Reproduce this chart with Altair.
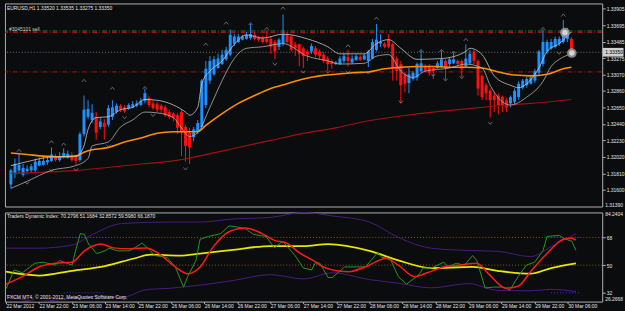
import altair as alt
import pandas as pd

# ---------------- main chart data (EURUSD H1) ----------------
O = [1.3167,1.3180,1.3185,1.3179,1.3184,1.3185,1.3185,1.3191,1.3192,1.3195,
     1.3197,1.3202,1.3198,1.3202,1.3201,1.3203,1.3202,1.3198,1.3231,1.3253,
     1.3249,1.3253,1.3240,1.3245,1.3243,1.3253,1.3259,1.3267,1.3265,1.3264,
     1.3265,1.3267,1.3268,1.3273,1.3277,1.3270,1.3269,1.3267,1.3265,1.3259,
     1.3257,1.3255,1.3259,1.3240,1.3233,1.3227,1.3234,1.3240,1.3268,1.3299,
     1.3307,1.3315,1.3320,1.3326,1.3332,1.3346,1.3348,1.3351,1.3352,1.3353,
     1.3357,1.3353,1.3353,1.3352,1.3352,1.3348,1.3342,1.3346,1.3357,1.3355,
     1.3345,1.3345,1.3340,1.3336,1.3336,1.3340,1.3336,1.3332,1.3327,1.3324,
     1.3320,1.3320,1.3324,1.3329,1.3322,1.3325,1.3329,1.3326,1.3324,1.3327,
     1.3338,1.3346,1.3346,1.3351,1.3345,1.3327,1.3320,1.3307,1.3296,1.3301,
     1.3303,1.3311,1.3317,1.3317,1.3315,1.3315,1.3317,1.3324,1.3320,1.3321,
     1.3324,1.3324,1.3317,1.3321,1.3336,1.3324,1.3305,1.3293,1.3286,1.3280,
     1.3280,1.3278,1.3274,1.3270,1.3272,1.3278,1.3290,1.3293,1.3295,1.3299,
     1.3309,1.3320,1.3336,1.3340,1.3342,1.3346,1.3348,1.3352,1.3352]
H = [1.3187,1.3200,1.3206,1.3193,1.3191,1.3193,1.3200,1.3201,1.3202,1.3203,
     1.3214,1.3206,1.3208,1.3213,1.3210,1.3208,1.3205,1.3234,1.3280,1.3274,
     1.3269,1.3259,1.3252,1.3250,1.3268,1.3274,1.3270,1.3269,1.3268,1.3270,
     1.3273,1.3274,1.3277,1.3289,1.3279,1.3274,1.3272,1.3269,1.3268,1.3262,
     1.3259,1.3258,1.3262,1.3243,1.3239,1.3240,1.3249,1.3301,1.3324,1.3330,
     1.3330,1.3333,1.3338,1.3342,1.3364,1.3358,1.3358,1.3357,1.3361,1.3371,
     1.3360,1.3356,1.3356,1.3363,1.3355,1.3351,1.3353,1.3383,1.3361,1.3357,
     1.3348,1.3346,1.3342,1.3338,1.3346,1.3343,1.3338,1.3335,1.3330,1.3326,
     1.3324,1.3330,1.3333,1.3338,1.3331,1.3332,1.3331,1.3333,1.3338,1.3352,
     1.3371,1.3358,1.3348,1.3358,1.3347,1.3330,1.3324,1.3310,1.3315,1.3311,
     1.3322,1.3337,1.3320,1.3320,1.3317,1.3324,1.3337,1.3326,1.3329,1.3335,
     1.3326,1.3326,1.3345,1.3338,1.3338,1.3326,1.3307,1.3296,1.3289,1.3284,
     1.3283,1.3280,1.3277,1.3280,1.3289,1.3298,1.3301,1.3304,1.3306,1.3314,
     1.3338,1.3364,1.3351,1.3352,1.3355,1.3355,1.3376,1.3366,1.3354]
L = [1.3162,1.3175,1.3181,1.3177,1.3180,1.3182,1.3182,1.3190,1.3191,1.3192,
     1.3196,1.3196,1.3196,1.3200,1.3200,1.3196,1.3192,1.3196,1.3228,1.3250,
     1.3245,1.3224,1.3237,1.3224,1.3240,1.3249,1.3257,1.3259,1.3258,1.3262,
     1.3264,1.3265,1.3267,1.3270,1.3265,1.3262,1.3259,1.3258,1.3253,1.3250,
     1.3247,1.3231,1.3203,1.3196,1.3193,1.3222,1.3231,1.3237,1.3264,1.3295,
     1.3305,1.3314,1.3319,1.3324,1.3330,1.3343,1.3347,1.3350,1.3351,1.3351,
     1.3350,1.3348,1.3346,1.3346,1.3333,1.3326,1.3338,1.3343,1.3346,1.3336,
     1.3330,1.3317,1.3315,1.3324,1.3333,1.3329,1.3326,1.3321,1.3311,1.3314,
     1.3319,1.3319,1.3321,1.3317,1.3320,1.3324,1.3324,1.3325,1.3316,1.3326,
     1.3336,1.3342,1.3340,1.3340,1.3299,1.3299,1.3270,1.3284,1.3283,1.3299,
     1.3299,1.3309,1.3309,1.3305,1.3301,1.3314,1.3315,1.3300,1.3317,1.3320,
     1.3317,1.3303,1.3315,1.3319,1.3320,1.3280,1.3274,1.3274,1.3252,1.3259,
     1.3256,1.3259,1.3259,1.3265,1.3269,1.3275,1.3288,1.3290,1.3294,1.3296,
     1.3306,1.3317,1.3333,1.3338,1.3340,1.3343,1.3346,1.3348,1.3328]
C = [1.3185,1.3193,1.3192,1.3188,1.3187,1.3190,1.3196,1.3197,1.3197,1.3198,
     1.3205,1.3198,1.3203,1.3207,1.3206,1.3198,1.3197,1.3231,1.3262,1.3263,
     1.3258,1.3233,1.3247,1.3240,1.3264,1.3265,1.3267,1.3262,1.3260,1.3268,
     1.3269,1.3270,1.3273,1.3283,1.3268,1.3264,1.3262,1.3262,1.3255,1.3253,
     1.3252,1.3239,1.3233,1.3216,1.3214,1.3237,1.3245,1.3299,1.3314,1.3324,
     1.3326,1.3327,1.3332,1.3338,1.3357,1.3355,1.3355,1.3355,1.3357,1.3358,
     1.3352,1.3351,1.3348,1.3348,1.3342,1.3336,1.3351,1.3358,1.3348,1.3338,
     1.3340,1.3333,1.3330,1.3332,1.3343,1.3332,1.3330,1.3324,1.3320,1.3320,
     1.3322,1.3327,1.3330,1.3324,1.3327,1.3330,1.3325,1.3331,1.3336,1.3348,
     1.3351,1.3348,1.3342,1.3342,1.3315,1.3311,1.3293,1.3295,1.3307,1.3309,
     1.3320,1.3321,1.3311,1.3309,1.3311,1.3321,1.3326,1.3315,1.3326,1.3326,
     1.3320,1.3314,1.3327,1.3333,1.3324,1.3289,1.3278,1.3283,1.3274,1.3274,
     1.3268,1.3267,1.3265,1.3278,1.3286,1.3295,1.3299,1.3301,1.3303,1.3311,
     1.3336,1.3348,1.3348,1.3348,1.3352,1.3352,1.3361,1.3363,1.3335]

orange_bar = [0,4,8,12,16,18,20,24,28,32,36,40,44,46,48,52,56,60,64,68,72,76,80,84,88,92,96,100,104,108,112,116,120,124,128,132,136,138]
orange = [1.3207,1.3205,1.3203,1.3202,1.3203,1.3208,1.3211,1.3214,1.3221,1.3226,1.3232,1.3234,1.3234,1.3234,1.3242,1.3257,1.3270,1.3280,1.3289,1.3295,1.3301,1.3305,1.3307,1.3309,1.3310,1.3314,1.3316,1.3317,1.3317,1.3316,1.3316,1.3315,1.3310,1.3306,1.3305,1.3307,1.3314,1.3316]
darkred_bar = [0,16,32,40,48,56,64,72,80,88,96,104,112,120,128,138]
darkred = [1.3181,1.3185,1.3193,1.3197,1.3205,1.3214,1.3223,1.3232,1.3239,1.3248,1.3254,1.3259,1.3263,1.3267,1.3270,1.3275]
ub_bar = [0,4,10,16,18,19,21,24,27,30,33,36,40,43,44,46,47,49,52,55,58,62,67,73,78,81,87,90,93,96,100,106,112,113,116,119,123,125,127,130,132,135,138]
ub = [1.3191,1.3196,1.3202,1.3203,1.3216,1.3237,1.3252,1.3253,1.3262,1.3265,1.3275,1.3274,1.3268,1.3259,1.3255,1.3265,1.3295,1.3311,1.3324,1.3345,1.3357,1.3353,1.3358,1.3352,1.3342,1.3333,1.3333,1.3346,1.3351,1.3340,1.3326,1.3327,1.3336,1.3340,1.3332,1.3305,1.3293,1.3290,1.3295,1.3315,1.3336,1.3346,1.3361]
lb_bar = [0,4,10,16,19,20,24,27,30,33,36,40,42,44,46,49,52,55,58,62,67,73,78,81,87,90,93,96,99,102,108,112,116,118,121,123,127,131,133,135,138]
lb = [1.3162,1.3171,1.3185,1.3191,1.3200,1.3216,1.3221,1.3240,1.3249,1.3259,1.3258,1.3252,1.3239,1.3228,1.3233,1.3265,1.3299,1.3327,1.3340,1.3342,1.3346,1.3330,1.3324,1.3320,1.3321,1.3330,1.3332,1.3311,1.3303,1.3311,1.3315,1.3320,1.3315,1.3293,1.3272,1.3268,1.3278,1.3298,1.3317,1.3326,1.3333]

up_bar = [2,10,13,18,25,33,48,53,59,63,67,83,90,101,106,109,112,131,136]
up_price = [1.3210,1.3221,1.3218,1.3299,1.3289,1.3290,1.3345,1.3372,1.3371,1.3365,1.3391,1.3343,1.3378,1.3337,1.3337,1.3335,1.3351,1.3365,1.3382]
dn_bar = [4,10,16,24,28,35,43,65,72,78,83,88,96,104,107,111,118,135]
dn_price = [1.3169,1.3185,1.3186,1.3216,1.3252,1.3255,1.3187,1.3320,1.3310,1.3310,1.3310,1.3309,1.3272,1.3306,1.3300,1.3303,1.3245,1.3334]

marker_bar = [136.4, 138.1]
marker_price = [1.3360, 1.3334]

order_price = 1.3362
stop_price = 1.3360
bid_price = 1.3335
take_price = 1.3310

price_ticks = [1.33905,1.33695,1.33485,1.33275,1.33070,1.32860,1.32650,1.32440,1.32230,1.32020,1.31810,1.31600]
price_bottom_label = "1.31390"
bid_label = "1.33350"

time_labels = ["22 Mar 2012","22 Mar 22:00","23 Mar 06:00","23 Mar 14:00","25 Mar 22:00",
               "26 Mar 06:00","26 Mar 14:00","26 Mar 22:00","27 Mar 06:00","27 Mar 14:00",
               "27 Mar 22:00","28 Mar 06:00","28 Mar 14:00","28 Mar 22:00","29 Mar 06:00",
               "29 Mar 14:00","29 Mar 22:00","30 Mar 06:00"]
time_label_bars = [0,8,16,24,32,40,48,56,64,72,80,88,96,104,112,120,128,136]

main_title = "EURUSD,H1  1.33520 1.33535 1.33275 1.33350"
order_text = "#3045101 sell"

# ---------------- Traders Dynamic Index data ----------------
green_bar = [0,2,4,7,9,12,13,16,17,18,19,20,22,24,25,27,30,33,35,36,39,41,43,44,46,47,49,52,54,56,58,60,63,65,67,68,70,72,74,75,76,78,79,82,84,87,90,91,93,95,97,100,101,103,106,107,109,111,113,114,116,118,120,122,124,126,128,130,131,134,135,137,138]
green = [34.5,46.9,45.0,51.2,51.9,50.0,53.0,50.0,61.0,70.5,70.0,63.7,57.5,59.3,61.0,59.3,59.3,64.3,59.3,56.2,55.0,48.8,35.7,42.5,53.0,66.8,68.6,70.5,75.5,74.8,73.6,69.9,68.6,61.2,65.5,62.4,56.2,48.1,46.9,51.9,51.2,41.9,41.9,48.8,48.8,48.8,58.1,55.0,54.3,42.5,37.6,43.8,48.1,48.1,51.9,48.8,51.2,50.0,56.2,53.1,35.1,35.7,35.7,33.9,42.5,50.0,51.9,59.3,68.6,69.3,67.4,65.5,59.598]
red_bar = [0,4,8,12,16,19,23,26,30,34,37,41,44,47,50,54,58,62,65,68,71,75,76,79,83,87,92,95,99,102,106,110,114,117,121,124,127,131,135,137,138]
red = [37.6,42.5,48.8,51.2,51.9,59.3,63.7,61.2,60.6,61.2,57.5,48.8,44.4,48.8,61.2,71.7,74.2,70.5,66.1,64.3,58.1,51.9,50.0,46.9,45.7,48.8,54.3,50.0,42.5,45.0,48.8,50.0,51.2,43.8,35.1,36.3,45.7,57.5,66.8,67.4,66.187]
yellow_bar = [0,8,16,24,31,35,42,47,55,64,72,78,88,95,103,113,119,127,132,138]
yellow = [45.7,43.2,46.3,49.4,54.3,56.8,56.2,57.5,59.9,62.4,62.4,63.7,59.3,53.1,48.1,48.8,46.3,44.4,48.1,51.168]
vbh_bar = [0,8,16,21,28,40,47,55,64,72,79,88,95,103,112,119,127,132,138]
vbh = [61.0,61.0,63.0,70.0,77.0,78.0,78.0,80.0,81.0,84.2,82.0,78.0,68.0,61.0,59.5,59.0,55.5,62.0,70.28]
vbl_bar = [0,8,16,24,28,34,40,47,55,64,72,79,88,95,103,112,119,127,132,138]
vbl = [30.5,26.3,28.5,30.0,29.0,34.0,35.0,37.0,40.0,43.8,41.0,45.0,40.6,38.2,35.2,38.0,33.6,33.3,34.2,32.857]

tdi_levels = [68, 50]
tdi_ticks = [68, 50, 32]
blue_seg_from = [14, 132, 14, 132]
blue_seg_to = [25, 139, 24, 139]
blue_seg_level = [68, 68, 32, 32]
tdi_title = "Traders Dynamic Index: 70.2796 51.1684 32.8572 59.5980 66.1870"
tdi_top_label = "84.2404"
tdi_bottom_label = "26.2668"
copyright_text = "FXCM MT4, \u00a9 2001-2012, MetaQuotes Software Corp."

# ---------------- styling ----------------
FONT = "Liberation Sans"
FS = 5
TXT = "#e4e4e4"
FRAME = "#b0b0b0"
BG = "#0b0c0e"
W = 603

xs = alt.Scale(domain=[-0.24, 144.36], nice=False, zero=False)
ps = alt.Scale(domain=[1.3139, 1.3397], nice=False, zero=False)
ts = alt.Scale(domain=[26.2668, 84.2404], nice=False, zero=False)

paxis = alt.Axis(orient="right", values=price_ticks, format=".5f", title=None, grid=False,
                 domain=False, tickSize=3, tickColor=FRAME, labelColor=TXT, labelFontSize=FS,
                 labelFont=FONT, labelPadding=1, labelOverlap=False, labelFlush=False)
taxis = alt.Axis(orient="right", values=tdi_ticks, format="d", title=None, grid=False,
                 domain=False, tickSize=3, tickColor=FRAME, labelColor=TXT, labelFontSize=FS,
                 labelFont=FONT, labelPadding=1, labelOverlap=False, labelFlush=False)
label_expr = "[" + ",".join("'%s'" % t for t in time_labels) + "][round(datum.value / 8)]"
xaxis = alt.Axis(values=time_label_bars, labelExpr=label_expr, labelAlign="left", labelFlush=False,
                 labelOverlap=False, tickSize=2, tickColor=FRAME, labelPadding=0, domain=False,
                 grid=False, labelFontSize=FS, labelFont=FONT, labelColor=TXT, title=None,
                 labelBaseline="top")

def px(f="bar"):
    return alt.X(f + ":Q", scale=xs, axis=None)

def py(f):
    return alt.Y(f + ":Q", scale=ps, axis=paxis)

def tx(f="bar"):
    return alt.X(f + ":Q", scale=xs, axis=xaxis)

def ty(f):
    return alt.Y(f + ":Q", scale=ts, axis=taxis)

# ---------------- main panel ----------------
bars = pd.DataFrame({"bar": list(range(len(C))), "open": O, "high": H, "low": L, "close": C})
bars["dir"] = ["up" if c >= o else "down" for o, c in zip(O, C)]
ccol = alt.Color("dir:N", scale=alt.Scale(domain=["up", "down"], range=["#1e90ff", "#ff1010"]), legend=None)

def hline(price, color, dash):
    return alt.Chart(pd.DataFrame({"p": [price]})).mark_rule(
        color=color, strokeDash=dash, strokeWidth=1).encode(y=py("p"))

def series(xb, vals, color, width, interp="monotone"):
    df = pd.DataFrame({"bar": xb, "v": vals})
    return alt.Chart(df).mark_line(color=color, strokeWidth=width, interpolate=interp).encode(
        x=px(), y=py("v"))

wicks = alt.Chart(bars).mark_rule(strokeWidth=1).encode(x=px(), y=py("low"), y2="high:Q", color=ccol)
bodies = alt.Chart(bars).mark_bar(width=3).encode(x=px(), y=py("open"), y2="close:Q", color=ccol)

ups = alt.Chart(pd.DataFrame({"bar": up_bar, "p": up_price})).mark_point(
    shape="M -1 0.6 L 0 -0.6 L 1 0.6", filled=False, size=18, strokeWidth=0.9, color="#9c9c9c"
).encode(x=px(), y=py("p"))
dns = alt.Chart(pd.DataFrame({"bar": dn_bar, "p": dn_price})).mark_point(
    shape="M -1 -0.6 L 0 0.6 L 1 -0.6", filled=False, size=18, strokeWidth=0.9, color="#9c9c9c"
).encode(x=px(), y=py("p"))

mk = pd.DataFrame({"bar": marker_bar, "p": marker_price})
glow = alt.Chart(mk).mark_point(shape="circle", filled=True, size=95, color="#9a9a9a", opacity=0.85).encode(x=px(), y=py("p"))
glow2 = alt.Chart(mk).mark_point(shape="circle", filled=True, size=30, color="#dcdcdc", opacity=0.9).encode(x=px(), y=py("p"))

def ptext(txt, x, y, color=TXT, baseline="middle"):
    return alt.Chart(pd.DataFrame({"t": [txt]})).mark_text(
        align="left", baseline=baseline, font=FONT, fontSize=FS, color=color
    ).encode(text="t:N", x=alt.value(x), y=alt.value(y))

bid_df = pd.DataFrame({"p": [bid_price], "t": [bid_label]})
bid_box = alt.Chart(bid_df).mark_point(
    shape="M -1 -0.42 L 1 -0.42 L 1 0.42 L -1 0.42 Z", filled=True, size=441, color="#cfcfcf", opacity=1
).encode(x=alt.value(614), y=py("p"))
bid_txt = alt.Chart(bid_df).mark_text(align="left", baseline="middle", font=FONT, fontSize=FS, color="#000000").encode(
    x=alt.value(606), y=py("p"), text="t:N")

main = alt.layer(
    hline(order_price, "#1f8a1f", [5, 2, 1, 2]),
    hline(stop_price, "#b01212", [5, 2, 1, 2]),
    hline(bid_price, "#77705c", [1, 2]),
    hline(take_price, "#b01212", [5, 2, 1, 2]),
    wicks, bodies,
    series(darkred_bar, darkred, "#a01010", 1.2),
    series(orange_bar, orange, "#ff8c00", 1.6),
    series(ub_bar, ub, "#c8c8c8", 0.8),
    series(lb_bar, lb, "#b0b0b0", 0.8),
    ups, dns, glow, glow2,
    ptext(main_title, 2, 5),
    ptext(order_text, 4, 26, color="#c8c8c8"),
    ptext(price_bottom_label, 606, 206, baseline="bottom"),
    bid_box, bid_txt,
).properties(width=W, height=205)

# ---------------- TDI panel ----------------
def tseries(xb, vals, color, width, interp="monotone"):
    df = pd.DataFrame({"bar": xb, "v": vals})
    return alt.Chart(df).mark_line(color=color, strokeWidth=width, interpolate=interp).encode(
        x=tx(), y=ty("v"))

levels = alt.Chart(pd.DataFrame({"v": tdi_levels})).mark_rule(
    color="#8a5a14", strokeDash=[1, 2], strokeWidth=1).encode(y=ty("v"))
blue_segs = alt.Chart(pd.DataFrame({"bar": blue_seg_from, "bar2": blue_seg_to, "v": blue_seg_level})).mark_rule(
    color="#3a3ad0", strokeDash=[1, 2], strokeWidth=1).encode(x=tx(), x2="bar2:Q", y=ty("v"))

def btext(txt, x, y, baseline="middle", color=TXT):
    return alt.Chart(pd.DataFrame({"t": [txt]})).mark_text(
        align="left", baseline=baseline, font=FONT, fontSize=FS, color=color
    ).encode(text="t:N", x=alt.value(x), y=alt.value(y))

tdi = alt.layer(
    levels, blue_segs,
    tseries(vbh_bar, vbh, "#4b1a7e", 1.0),
    tseries(vbl_bar, vbl, "#4b1a7e", 1.0),
    tseries(yellow_bar, yellow, "#e6e600", 1.8),
    tseries(green_bar, green, "#1f9a1f", 1.0, "linear"),
    tseries(red_bar, red, "#ff1a1a", 1.5),
    btext(tdi_title, 2, 4),
    btext(copyright_text, 2, 85),
    btext(tdi_top_label, 606, 0, baseline="top"),
    btext(tdi_bottom_label, 606, 90, baseline="bottom"),
).properties(width=W, height=90)

chart = alt.vconcat(main, tdi, spacing=1).properties(
    padding={"left": 1, "top": 1, "right": 0, "bottom": 0},
    background=BG,
).configure_view(stroke=FRAME, strokeWidth=1)

chart.save("out.html", embed_options={"renderer": "svg", "actions": False})
